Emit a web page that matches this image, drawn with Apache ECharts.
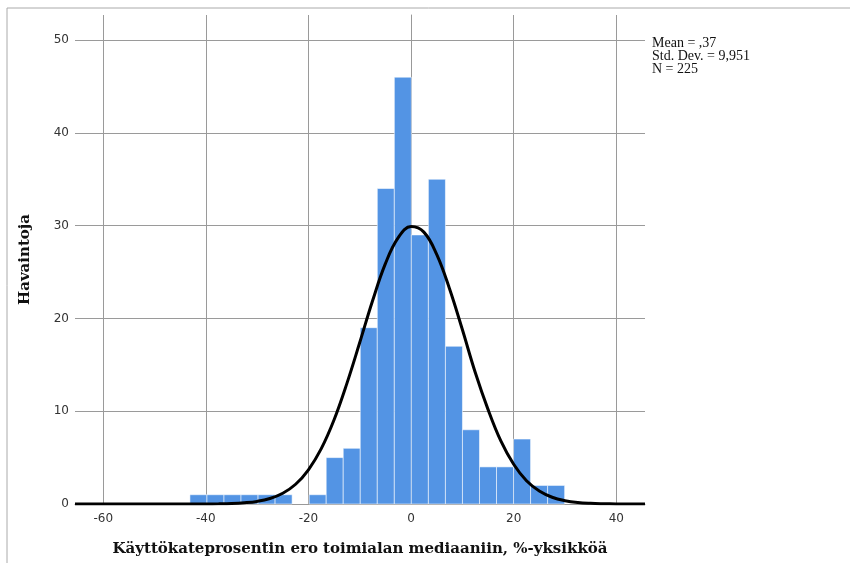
<!DOCTYPE html>
<html>
<head>
<meta charset="utf-8">
<script src="https://cdn.jsdelivr.net/npm/echarts@6/dist/echarts.min.js"></script>
<style>
  html, body { margin: 0; padding: 0; background: #fff; }
  #main { width: 850px; height: 563px; }
</style>
</head>
<body>
<div id="main"></div>
<script>
// histogrammin luokat: ensimmäinen reuna ja luokan leveys kuvasta luettuna
var binStart = -43.1;
var binWidth = 3.32;
var counts = [1, 1, 1, 1, 1, 1, 0, 1, 5, 6, 19, 34, 46, 29, 35, 17, 8, 4, 4, 7, 2, 2];

// normaalijakaumakäyrä, pisteet luettu kuvasta
var curveX = [-65.5, -50, -45, -40, -37.5, -35, -32.5, -30, -27.5, -25, -22.5, -20, -17.5, -15, -12.5, -10, -7.5, -5, -2.5, 0,
    2.5, 5, 7.5, 10, 12.5, 15, 17.5, 20, 22.5, 25, 27.5, 30, 32.5, 35, 37.5, 40, 45.6];
var curveY = [0, 0, 0, 0.01, 0.02, 0.05, 0.13, 0.28, 0.59, 1.16, 2.13, 3.69, 5.97, 9.08, 13.0, 17.4, 21.9, 25.9, 28.7, 29.9,
    29.3, 26.9, 23.2, 18.8, 14.2, 10.2, 6.8, 4.28, 2.5, 1.4, 0.73, 0.36, 0.16, 0.07, 0.03, 0.01, 0];

var xTicks = [-60, -40, -20, 0, 20, 40];
var yTicks = [0, 10, 20, 30, 40, 50];
var stats = ['Mean = ,37', 'Std. Dev. = 9,951', 'N = 225'];

var barData = [];
counts.forEach(function (c, i) {
    if (c > 0) barData.push([binStart + i * binWidth, binStart + (i + 1) * binWidth, c]);
});
var curveData = curveX.map(function (x, i) { return [x, curveY[i]]; });

var myChart = echarts.init(document.getElementById('main'));

function renderBar(params, api) {
    var p0 = api.coord([api.value(0), api.value(2)]);
    var p1 = api.coord([api.value(1), 0]);
    return {
        type: 'rect',
        shape: { x: p0[0], y: p0[1], width: p1[0] - p0[0], height: p1[1] - p0[1] },
        style: { fill: '#5394e4', stroke: 'rgba(255,255,255,0.55)', lineWidth: 1 }
    };
}

var options = {
    animation: false,
    grid: { left: 75, right: 205, top: 15, bottom: 59 },
    xAxis: {
        type: 'value',
        min: -65.5,
        max: 45.6,
        name: 'Käyttökateprosentin ero toimialan mediaaniin, %-yksikköä',
        nameLocation: 'middle',
        nameGap: 38,
        nameTextStyle: { fontFamily: 'DejaVu Serif', fontWeight: 'bold', fontSize: 15, color: '#111' },
        axisLine: { show: true, lineStyle: { color: '#999' } },
        axisTick: { show: false, customValues: xTicks },
        axisLabel: { customValues: xTicks, fontFamily: 'DejaVu Sans', fontSize: 12, color: '#333', margin: 9 },
        splitLine: { show: true, lineStyle: { color: '#9a9a9a', width: 1 } }
    },
    yAxis: {
        type: 'value',
        min: 0,
        max: 52.7,
        name: 'Havaintoja',
        nameLocation: 'middle',
        nameGap: 42,
        nameTextStyle: { fontFamily: 'DejaVu Serif', fontWeight: 'bold', fontSize: 15, color: '#111' },
        axisLine: { show: true, lineStyle: { color: '#999' } },
        axisTick: { show: false, customValues: yTicks },
        axisLabel: { customValues: yTicks, fontFamily: 'DejaVu Sans', fontSize: 12, color: '#333', margin: 6 },
        splitLine: { show: true, lineStyle: { color: '#9a9a9a', width: 1 } }
    },
    graphic: [
        { type: 'line', shape: { x1: 7, y1: 8, x2: 850, y2: 8 }, style: { stroke: '#aaa', lineWidth: 1 } },
        { type: 'line', shape: { x1: 7, y1: 8, x2: 7, y2: 563 }, style: { stroke: '#aaa', lineWidth: 1 } },
        {
            type: 'text', left: 652, top: 36,
            style: { text: stats.join('\n'), font: '14px "Liberation Serif"', lineHeight: 13, fill: '#111' }
        }
    ],
    series: [
        {
            type: 'custom',
            renderItem: renderBar,
            encode: { x: [0, 1], y: 2 },
            data: barData,
            z: 2
        },
        {
            type: 'line',
            data: curveData,
            smooth: 0.4,
            showSymbol: false,
            lineStyle: { color: '#000', width: 3 },
            z: 3
        }
    ]
};
myChart.setOption(options);
</script>
</body>
</html>
